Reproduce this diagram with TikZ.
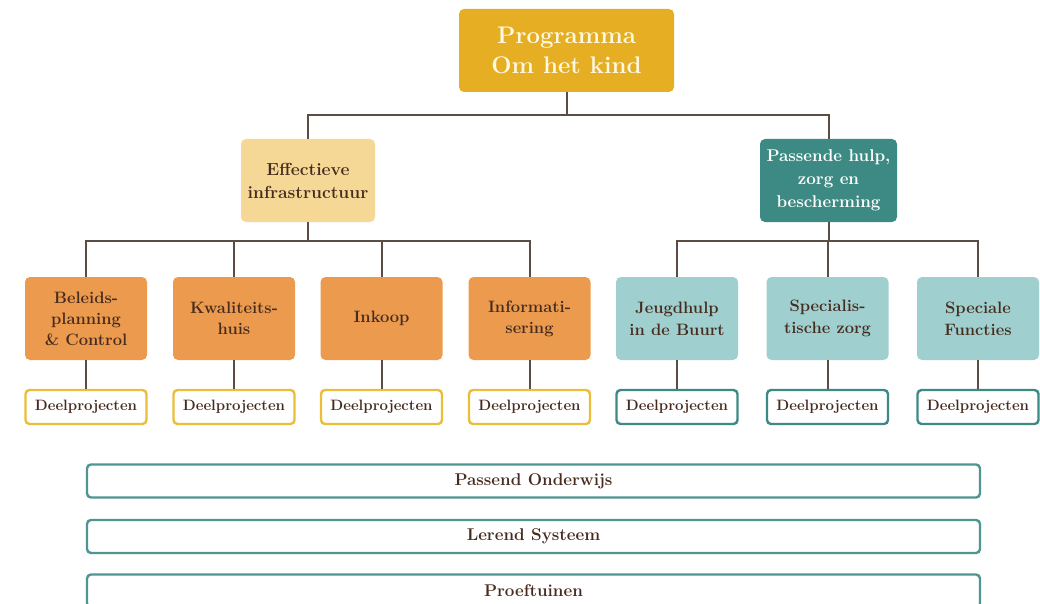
\documentclass[tikz,border=0pt]{standalone}
\usepackage{tikz}
\definecolor{gold}{RGB}{230,174,34}
\definecolor{tan}{RGB}{246,216,150}
\definecolor{tealdark}{RGB}{61,138,132}
\definecolor{orangebox}{RGB}{236,154,78}
\definecolor{teallight}{RGB}{160,207,207}
\definecolor{linecol}{RGB}{91,76,68}
\definecolor{textbrown}{RGB}{70,44,30}
\definecolor{deelgold}{RGB}{235,190,58}
\definecolor{cream}{RGB}{255,248,226}
\tikzset{
  base/.style={rounded corners=5pt, align=center, inner sep=2pt},
  topbox/.style={base, fill=gold, text=cream, minimum width=215pt, minimum height=83pt, font=\bfseries\fontsize{24}{30}\selectfont},
  midtan/.style={base, fill=tan, text=textbrown, minimum width=134pt, minimum height=83pt, font=\bfseries\fontsize{17.5}{23}\selectfont},
  midteal/.style={base, fill=tealdark, text=white, minimum width=137pt, minimum height=83pt, font=\bfseries\fontsize{17}{23}\selectfont},
  orbox/.style={base, fill=orangebox, text=textbrown, minimum width=122pt, minimum height=83pt, font=\bfseries\fontsize{16.5}{21}\selectfont},
  ltbox/.style={base, fill=teallight, text=textbrown, minimum width=122pt, minimum height=83pt, font=\bfseries\fontsize{16.5}{22}\selectfont},
  deel/.style={base, rounded corners=4pt, fill=white, line width=2.4pt, text=textbrown, minimum width=121pt, minimum height=34pt, font=\bfseries\fontsize{15}{17}\selectfont},
  deelL/.style={deel, draw=deelgold},
  deelR/.style={deel, draw=tealdark},
  bar/.style={base, rounded corners=4pt, draw=tealdark!90, line width=2.4pt, fill=white, text=textbrown, minimum width=893pt, minimum height=33pt, font=\bfseries\fontsize{17}{19}\selectfont},
  conn/.style={draw=linecol, line width=2pt}
}
\begin{document}
\begin{tikzpicture}[x=1pt,y=-1pt]
\useasboundingbox (0,0) rectangle (1040,604);
\clip (0,0) rectangle (1040,604);

% top level
\node[topbox] (top) at (566.5,50.5) {Programma\\Om het kind};

% second level
\node[midtan] (eff) at (308,180.5) {Effectieve\\infrastructuur};
\node[midteal] (pas) at (828.5,180.5) {Passende hulp,\\zorg en\\bescherming};

% third level, left branch
\node[orbox] (o1) at (86,318.5) {Beleids-\\planning\\\& Control};
\node[orbox] (o2) at (234,318.5) {Kwaliteits-\\huis};
\node[orbox] (o3) at (381.5,318.5) {Inkoop};
\node[orbox] (o4) at (529.5,318.5) {Informati-\\sering};

% third level, right branch
\node[ltbox] (t1) at (677,318.5) {Jeugdhulp\\in de Buurt};
\node[ltbox] (t2) at (827.5,318.5) {Specialis-\\tische zorg};
\node[ltbox] (t3) at (978,318.5) {Speciale\\Functies};

% sub-projects
\node[deelL] (d1) at (86,407) {Deelprojecten};
\node[deelL] (d2) at (234,407) {Deelprojecten};
\node[deelL] (d3) at (381.5,407) {Deelprojecten};
\node[deelL] (d4) at (529.5,407) {Deelprojecten};
\node[deelR] (d5) at (677,407) {Deelprojecten};
\node[deelR] (d6) at (827.5,407) {Deelprojecten};
\node[deelR] (d7) at (978,407) {Deelprojecten};

% cross-cutting bars
\node[bar] (b1) at (533.5,481) {Passend Onderwijs};
\node[bar] (b2) at (533.5,536.5) {Lerend Systeem};
\node[bar] (b3) at (533.5,591) {Proeftuinen};

% bus junctions
\coordinate (j0) at (566.5,115);
\coordinate (jl) at (308,241);
\coordinate (jr) at (828.5,241);

% connectors
\draw[conn] (top.south) -- (j0);
\draw[conn] (eff.north) |- (j0) -| (pas.north);

\draw[conn] (eff.south) -- (jl);
\draw[conn] (o1.north) |- (jl) -| (o4.north);
\draw[conn] (o2.north) -- (o2.north |- jl);
\draw[conn] (o3.north) -- (o3.north |- jl);

\draw[conn] (pas.south) -- (jr);
\draw[conn] (t1.north) |- (jr) -| (t3.north);
\draw[conn] (t2.north) -- (t2.north |- jr);

\foreach \a/\b in {o1/d1,o2/d2,o3/d3,o4/d4,t1/d5,t2/d6,t3/d7}
  \draw[conn] (\a.south) -- (\b.north);
\end{tikzpicture}
\end{document}
